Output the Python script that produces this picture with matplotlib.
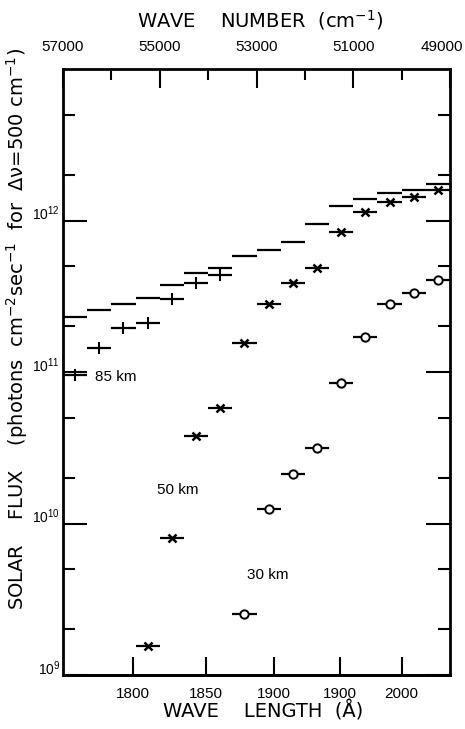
import numpy as np
import matplotlib
matplotlib.use("Agg")
import matplotlib.pyplot as plt
import matplotlib.ticker as mticker
import matplotlib.transforms as mtransforms

plt.rcParams['font.family'] = ['Liberation Sans', 'DejaVu Sans']
plt.rcParams['mathtext.default'] = 'regular'

# centre wave numbers of the 500 cm-1 bins (cm-1)
wavenumber = np.array([56750, 56250, 55750, 55250, 54750, 54250, 53750, 53250,
                       52750, 52250, 51750, 51250, 50750, 50250, 49750, 49250])
bin_width = 500

# solar flux, photons cm-2 sec-1 per bin
flux_top = [2.29e11, 2.58e11, 2.83e11, 3.10e11, 3.78e11, 4.47e11, 4.89e11, 5.87e11,
            6.43e11, 7.16e11, 9.55e11, 1.24e12, 1.38e12, 1.51e12, 1.58e12, 1.73e12]
flux_85km = [9.5e10, 1.45e11, 1.96e11, 2.09e11, 3.01e11, 3.89e11, 4.39e11]   # bins 1-7
flux_50km = [1.56e9, 8.0e9, 3.8e10, 5.8e10, 1.56e11, 2.79e11, 3.89e11, 4.89e11,
             8.45e11, 1.13e12, 1.32e12, 1.44e12, 1.58e12]                      # bins 4-16
flux_30km = [2.53e9, 1.25e10, 2.13e10, 3.16e10, 8.4e10, 1.69e11, 2.83e11,
             3.34e11, 4.07e11]                                                 # bins 8-16

nu_major = [57000, 55000, 53000, 51000, 49000]
nu_minor = [56000, 54000, 52000, 50000]
wl_ticks = [1800, 1850, 1900, 1950, 2000]
wl_labels = ['1800', '1850', '1900', '1900', '2000']

title_font = dict(family=['DejaVu Sans'], fontsize=14)

fig = plt.figure(figsize=(4.65, 7.29), dpi=100)
ax = fig.add_axes([63/465, 1 - 675/729, 387/465, 606/729])


def draw_bins(nu, flux, marker=None, **kw):
    nu = np.asarray(nu)
    ax.hlines(flux, nu - bin_width/2, nu + bin_width/2, color='black', lw=1.6, zorder=2)
    if marker:
        ax.plot(nu, flux, ls='none', marker=marker, color='black', zorder=3, **kw)


draw_bins(wavenumber, flux_top)
draw_bins(wavenumber[:7], flux_85km, '|', ms=8, mew=1.5)
draw_bins(wavenumber[3:], flux_50km, 'x', ms=6, mew=1.8)
draw_bins(wavenumber[7:], flux_30km, 'o', ms=6, mfc='white', mec='black', mew=1.4)

ax.text(56340, 9.2e10, '85 km', fontsize=11, ha='left', va='center')
ax.text(55060, 1.67e10, '50 km', fontsize=11, ha='left', va='center')
ax.text(53200, 4.6e9, '30 km', fontsize=11, ha='left', va='center')

# wave number scale along the top
ax.set_xlim(57000, 49000)
ax.xaxis.tick_top()
ax.xaxis.set_major_locator(mticker.FixedLocator(nu_major))
ax.xaxis.set_minor_locator(mticker.FixedLocator(nu_minor))
ax.xaxis.set_major_formatter(mticker.StrMethodFormatter('{x:.0f}'))
ax.tick_params(axis='x', which='major', direction='in', length=14, width=1.5,
               labelsize=11, pad=11)
ax.tick_params(axis='x', which='minor', direction='in', length=8, width=1.5)
ax.xaxis.get_major_ticks()[-1].label2.set_horizontalalignment('right')
ax.xaxis.get_major_ticks()[-1].label2.set_x(49000)
edge_shift = mtransforms.ScaledTranslation(0.13, 0, fig.dpi_scale_trans)
last = ax.xaxis.get_major_ticks()[-1].label2
last.set_transform(last.get_transform() + edge_shift)

# log flux scale
ax.set_yscale('log')
ax.set_ylim(1e9, 1e13)
ax.set_yticks([1e9, 1e10, 1e11, 1e12])
ax.yaxis.set_minor_locator(mticker.LogLocator(base=10, subs=(2.0, 5.0), numticks=20))
ax.yaxis.set_minor_formatter(mticker.NullFormatter())
ax.tick_params(axis='y', which='major', direction='in', length=17, width=1.5,
               left=True, right=True, labelsize=10, pad=2)
ax.tick_params(axis='y', which='minor', direction='in', length=8.5, width=1.5,
               left=True, right=True)
shift = mtransforms.ScaledTranslation(0, 0.08, fig.dpi_scale_trans)
for t in ax.yaxis.get_major_ticks():
    t.label1.set_transform(t.label1.get_transform() + shift)


def nu_to_wl(x):
    x = np.asarray(x, dtype=float)
    with np.errstate(divide='ignore', invalid='ignore'):
        return 1e8 / x


# wave length scale along the bottom
secax = ax.secondary_xaxis('bottom', functions=(nu_to_wl, nu_to_wl))
secax.set_xticks(wl_ticks, labels=wl_labels)
secax.xaxis.set_minor_locator(mticker.NullLocator())
secax.tick_params(direction='in', length=13, width=1.5, labelsize=11, pad=9)

for sp in list(ax.spines.values()) + list(secax.spines.values()):
    sp.set_linewidth(2)

fig.text(260/465, 1 - 20/729, 'WAVE    NUMBER  (cm$^{-1}$)', ha='center', va='center',
         **title_font)
fig.text(263/465, 1 - 711/729, 'WAVE    LENGTH  (Å)', ha='center', va='center',
         **title_font)
fig.text(17/465, 1 - 329/729,
         'SOLAR    FLUX    (photons  cm$^{-2}$sec$^{-1}$  for  Δν=500 cm$^{-1}$)',
         rotation=90, ha='center', va='center', **title_font)

fig.savefig('out.png', dpi=100)
